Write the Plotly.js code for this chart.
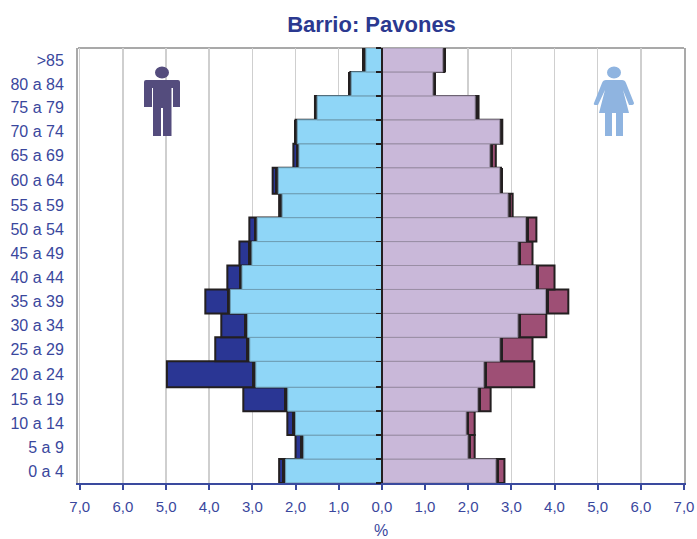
<!DOCTYPE html>
<html>
<head>
<meta charset="utf-8">
<script src="https://cdn.plot.ly/plotly-3.0.1.min.js"></script>
<style>html,body{margin:0;padding:0;background:#fff}</style>
</head>
<body>
<div id="chart" style="width:697px;height:539px"></div>
<script>
// Rows listed from the bottom of the chart to the top
const ageGroups = ["0 a 4","5 a 9","10 a 14","15 a 19","20 a 24","25 a 29","30 a 34","35 a 39","40 a 44","45 a 49","50 a 54","55 a 59","60 a 64","65 a 69","70 a 74","75 a 79","80 a 84",">85"];
const rowSpans  = [24,24,24,24,26,24,24,24,24,24,24,24,26,24,24,24,24,24];
const maleOuter   = [2.38,2.00,2.19,3.21,4.98,3.86,3.72,4.09,3.58,3.30,3.07,2.38,2.53,2.05,2.00,1.55,0.73,0.37];
const maleInner   = [2.23,1.81,2.00,2.18,2.92,3.06,3.11,3.51,3.24,3.01,2.89,2.31,2.40,1.92,1.96,1.50,0.71,0.37];
const femaleOuter = [2.84,2.15,2.15,2.52,3.53,3.49,3.81,4.32,4.00,3.49,3.58,3.03,2.76,2.64,2.79,2.24,1.22,1.45];
const femaleInner = [2.64,1.99,1.95,2.22,2.36,2.73,3.15,3.79,3.56,3.15,3.33,2.92,2.73,2.50,2.73,2.16,1.18,1.41];
const axisValues = [-7,-6,-5,-4,-3,-2,-1,0,1,2,3,4,5,6,7];
const axisLabels = ["7,0","6,0","5,0","4,0","3,0","2,0","1,0","0,0","1,0","2,0","3,0","4,0","5,0","6,0","7,0"];

const ink = "#231f20", textBlue = "#3a479d";
const stripe = 0.08;
const xMin = -7.04, xMax = 7.0;

let acc = 0; const centers = [], edges = [0];
rowSpans.forEach(h => { centers.push(acc + h/2); acc += h; edges.push(acc); });
const neg = a => a.map(v => -v);

function bar(x, color, lineColor, lineWidth, yaxis) {
  return {type:"bar", orientation:"h", y:centers, width:rowSpans, x:x, yaxis:yaxis||"y",
    marker:{color:color, line:{color:lineColor, width:lineWidth}}, hoverinfo:"skip", showlegend:false};
}

const traces = [
  bar(neg(maleOuter), "#2a3694", ink, 2),
  bar(femaleOuter, "#9e4f75", ink, 2),
  bar(neg(maleInner.map(v => v + stripe)), ink, ink, 0),
  bar(femaleInner.map(v => v + stripe), ink, ink, 0),
  bar(neg(maleInner), "#8fd6f7", "#6f9fb5", 1, "y2"),
  bar(femaleInner, "#c9b8d9", "#9a8ea5", 1, "y2")
];

function svgUri(body, w, h, color) {
  const s = `<svg xmlns="http://www.w3.org/2000/svg" width="${w}" height="${h}" viewBox="0 0 ${w} ${h}"><g fill="${color}">${body}</g></svg>`;
  return "data:image/svg+xml;base64," + btoa(s);
}
const manSvg = svgUri('<ellipse cx="18" cy="6.5" rx="7" ry="6"/><path d="M2 14 H34 Q36 14 36 16 V41 H29 V22 H27.5 V70 H19 V42 H17 V70 H9 V22 H8 V41 H0 V16 Q0 14 2 14Z"/>', 36, 70, "#544c7d");
const womanSvg = svgUri('<ellipse cx="21" cy="6.5" rx="7" ry="6"/><path d="M13 14 H29 Q32 14 33 17 L41 37 Q41 39 38 39 L36 39 L30 24 L36 47 H30 V70 H23 V47 H19 V70 H12 V47 H6 L12 24 L5 39 L3 39 Q0 39 1 37 L9 17 Q10 14 13 14Z"/>', 42, 70, "#8fb4e0");

const layout = {
  width:697, height:539,
  margin:{l:78, r:13, t:48, b:56, pad:0},
  paper_bgcolor:"#fff", plot_bgcolor:"#fff",
  barmode:"overlay", bargap:0,
  font:{family:"Liberation Sans, Arial, sans-serif", color:textBlue, size:15},
  title:{text:"<b>Barrio: Pavones</b>", x:371.5/697, xanchor:"center", y:0.954, yanchor:"middle",
         font:{size:22, color:"#2b3990", family:"Liberation Sans, Arial, sans-serif"}},
  xaxis:{range:[xMin,xMax], tickmode:"array", tickvals:axisValues, ticktext:axisLabels,
         showgrid:true, gridcolor:"#cfcfcf", gridwidth:1.5, zeroline:false,
         showline:true, linecolor:"#3a4a9e", linewidth:2,
         ticks:"outside", ticklen:5, tickwidth:2, tickcolor:"#3a4a9e",
         ticklabelstandoff:4,
         tickfont:{size:15, color:textBlue}, fixedrange:true,
         title:{text:"%", font:{size:16, color:textBlue}, standoff:19}},
  yaxis:{range:[0,acc], tickmode:"array", tickvals:centers, ticktext:ageGroups,
         showgrid:false, zeroline:false, showline:true, mirror:true, linecolor:"#a9a9a9", linewidth:2,
         ticks:"", ticklabelstandoff:9, tickfont:{size:16, color:textBlue}, fixedrange:true},
  yaxis2:{overlaying:"y", anchor:"free", position:-xMin/(xMax-xMin), side:"left", range:[0,acc],
          tickmode:"array", tickvals:edges, ticktext:edges.map(() => ""),
          showgrid:false, zeroline:false, showline:true, linecolor:ink, linewidth:2.5,
          ticks:"outside", ticklen:5, tickwidth:1.5, tickcolor:ink, showticklabels:false, fixedrange:true},
  shapes:[{type:"line", xref:"paper", yref:"paper", x0:0, x1:1, y0:1, y1:1, line:{color:"#a9a9a9", width:2}, layer:"below"}],
  images:[
    {source:manSvg, xref:"paper", yref:"paper", x:(144-78)/606, y:(483-66)/435, sizex:36/606, sizey:70/435, sizing:"stretch", xanchor:"left", yanchor:"top", layer:"above"},
    {source:womanSvg, xref:"paper", yref:"paper", x:(593-78)/606, y:(483-66)/435, sizex:42/606, sizey:70/435, sizing:"stretch", xanchor:"left", yanchor:"top", layer:"above"}
  ]
};
Plotly.newPlot("chart", traces, layout, {displayModeBar:false, staticPlot:true});
</script>
</body>
</html>
